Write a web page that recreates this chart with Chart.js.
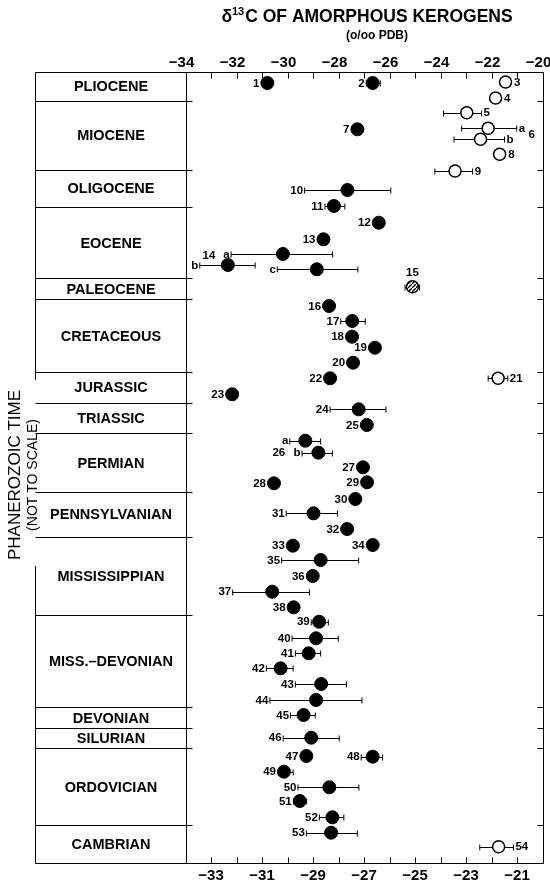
<!DOCTYPE html>
<html lang="en">
<head>
<meta charset="UTF-8">
<title>d13C of amorphous kerogens</title>
<script src="https://cdn.jsdelivr.net/npm/chart.js"></script>
<style>
    html, body { margin: 0; padding: 0; background: #fff; }
    canvas { display: block; }
</style>
</head>
<body>
<canvas id="kerogenChart" width="550" height="885"></canvas>
<script>
// label printed beside each point (sub-samples of 6, 14 and 26 shown as a/b/c)
const sampleLabels = ['1','2','3','4','5','a','b','7','8','9','10','11','12','13','a','b','c','15','16','17',
    '18','19','20','21','22','23','24','25','a','b','27','28','29','30','31','32','33','34','35','36',
    '37','38','39','40','41','42','43','44','45','46','47','48','49','50','51','52','53','54'];
// delta 13C, per mil PDB
const d13C = [-30.79,-26.66,-21.45,-21.84,-22.97,-22.13,-22.43,-27.26,-21.68,-23.43,-27.65,-28.18,-26.42,-28.59,-30.18,-32.34,-28.85,-25.10,-28.37,-27.46,
    -27.47,-26.57,-27.43,-21.74,-28.33,-32.17,-27.21,-26.89,-29.30,-28.79,-27.04,-30.53,-26.88,-27.34,-28.98,-27.66,-29.79,-26.66,-28.70,-29.01,
    -30.60,-29.76,-28.76,-28.88,-29.17,-30.27,-28.68,-28.88,-29.37,-29.07,-29.26,-26.66,-30.14,-28.36,-29.52,-28.24,-28.29,-21.72];
// range bars (null = single value)
const errLow = [null,-26.91,null,null,-23.88,-23.17,-23.47,null,-21.89,-24.22,-29.33,-28.53,null,null,-32.21,-33.44,-30.40,-25.39,null,-27.91,
    null,null,-27.62,-22.13,null,null,-28.33,null,-29.91,-29.43,null,null,null,null,-30.05,null,null,null,-30.23,null,
    -32.15,null,-29.07,-29.82,-29.69,-30.83,-29.69,-30.69,-29.88,-30.17,-29.45,-27.11,-30.36,-29.59,-29.76,-28.75,-29.26,-22.46];
const errHigh = [null,-26.36,null,null,-22.39,-21.01,-21.49,null,-21.50,-22.74,-25.95,-27.75,null,null,-28.23,-31.27,-27.24,-24.82,null,-26.95,
    null,null,-27.28,-21.36,null,null,-26.14,null,-28.70,-28.24,null,null,null,null,-28.04,null,null,null,-27.21,null,
    -29.14,null,-28.40,-28.01,-28.70,-29.78,-27.69,-27.08,-28.91,-27.97,-29.10,-26.27,-29.78,-27.20,-29.25,-27.79,-27.26,-21.14];
// position down the time column (not to scale), 0 = top
const stratPos = [11,11,10,26,40.7,56.3,67.3,57.3,82.3,99,118,134,150.7,167.3,182,193,197.3,214.7,234,249,
    264.7,275.7,290.7,306.3,306.3,322.3,337.3,353,368.7,380.7,395.3,411.3,410.3,427,441.3,457,473.7,473,488,504,
    519.7,535.3,549.7,566.3,581.3,596.3,612,628,643,665.7,684,684.7,699.7,715.3,729,745.3,760.7,774.7];
// F = filled, O = open, H = hatched
const kerogenType = ['F','F','O','O','O','O','O','F','O','O','F','F','F','F','F','F','F','H','F','F',
    'F','F','F','O','F','F','F','F','F','F','F','F','F','F','F','F','F','F','F','F',
    'F','F','F','F','F','F','F','F','F','F','F','F','F','F','F','F','F','O'];

const periods = ['PLIOCENE','MIOCENE','OLIGOCENE','EOCENE','PALEOCENE','CRETACEOUS','JURASSIC','TRIASSIC',
    'PERMIAN','PENNSYLVANIAN','MISSISSIPPIAN','MISS.\u2013DEVONIAN','DEVONIAN','SILURIAN','ORDOVICIAN','CAMBRIAN'];
const periodBounds = [0,28.7,98,134.7,206.3,227.3,299.7,330.7,361.3,419.7,464.7,543,634.7,656.3,676.3,753,791];

// sample numbers written once for a group of sub-samples
const groupLabels = ['6','14','26'];
const groupX = [-20.42,-33.08,-30.34];
const groupPos = [63,184,380.7];

// label placement: R = right of point/bar, T = above, everything else left
const rightLabelled = ['3','4','5','8','9','21','54'];
const FONT = '"Liberation Sans", Arial, sans-serif';
const R = 6.5;

function labelSide(i) {
    if (kerogenType[i] === 'H') return 'T';
    if (i === 5 || i === 6 || rightLabelled.includes(sampleLabels[i])) return 'R';
    return 'L';
}

function hatch() {
    const c = document.createElement('canvas');
    c.width = 4; c.height = 4;
    const g = c.getContext('2d');
    g.fillStyle = '#fff';
    g.fillRect(0, 0, 4, 4);
    g.strokeStyle = '#000';
    g.lineWidth = 1.3;
    g.beginPath();
    g.moveTo(-1, 5); g.lineTo(5, -1);
    g.stroke();
    return g.createPattern(c, 'repeat');
}

function points(type) {
    return d13C.map((v, i) => ({ x: v, y: stratPos[i], t: kerogenType[i] })).filter(p => p.t === type);
}

const minus = v => (v < 0 ? '\u2212' : '') + Math.abs(v);
const crisp = v => Math.round(v) + 0.5;

const decor = {
    id: 'decor',
    beforeDatasetsDraw(chart) {
        const { ctx, scales: { x, y } } = chart;
        ctx.save();
        ctx.strokeStyle = '#000';
        ctx.lineWidth = 1;
        d13C.forEach((v, i) => {
            if (errLow[i] === null) return;
            const py = crisp(y.getPixelForValue(stratPos[i]));
            const x0 = x.getPixelForValue(errLow[i]);
            const x1 = x.getPixelForValue(errHigh[i]);
            ctx.beginPath();
            ctx.moveTo(x0, py); ctx.lineTo(x1, py);
            ctx.moveTo(x0, py - 3); ctx.lineTo(x0, py + 3);
            ctx.moveTo(x1, py - 3); ctx.lineTo(x1, py + 3);
            ctx.stroke();
        });
        ctx.restore();
    },
    afterDatasetsDraw(chart) {
        const { ctx, scales: { x, y } } = chart;
        ctx.save();
        ctx.fillStyle = '#000';
        ctx.font = 'bold 11.5px ' + FONT;
        ctx.textBaseline = 'middle';
        d13C.forEach((v, i) => {
            const px = x.getPixelForValue(v);
            const py = y.getPixelForValue(stratPos[i]) + 0.5;
            const side = labelSide(i);
            if (side === 'T') {
                ctx.textAlign = 'center';
                ctx.fillText(sampleLabels[i], px, py - R - 8);
            } else if (side === 'R') {
                const edge = errHigh[i] === null ? px + R : Math.max(px + R, x.getPixelForValue(errHigh[i]));
                ctx.textAlign = 'left';
                ctx.fillText(sampleLabels[i], edge + 2, py);
            } else {
                const edge = errLow[i] === null ? px - R : Math.min(px - R, x.getPixelForValue(errLow[i]));
                ctx.textAlign = 'right';
                ctx.fillText(sampleLabels[i], edge - 1.5, py);
            }
        });
        ctx.textAlign = 'center';
        groupLabels.forEach((t, i) => {
            ctx.fillText(t, x.getPixelForValue(groupX[i]), y.getPixelForValue(groupPos[i]));
        });
        ctx.restore();
    },
    afterDraw(chart) {
        const { ctx, chartArea: a, scales: { x, y } } = chart;
        const L = crisp(a.left), Rt = crisp(a.right), T = crisp(a.top), B = crisp(a.bottom);
        const colLeft = 35.5;
        ctx.save();
        ctx.strokeStyle = '#000';
        ctx.lineWidth = 1;
        ctx.beginPath();
        // plot frame
        ctx.rect(L, T, Rt - L, B - T);
        // inner ticks on top and bottom
        x.ticks.forEach(t => {
            if (t.value <= -34 || t.value >= -20) return;
            const px = crisp(x.getPixelForValue(t.value));
            ctx.moveTo(px, T); ctx.lineTo(px, T + 6);
            ctx.moveTo(px, B); ctx.lineTo(px, B - 6);
        });
        // period column
        periodBounds.forEach((b, i) => {
            const py = crisp(y.getPixelForValue(b));
            ctx.moveTo(colLeft, py); ctx.lineTo(L, py);
            if (i > 0 && i < periodBounds.length - 1) {
                ctx.moveTo(L, py); ctx.lineTo(L + 6, py);
                ctx.moveTo(Rt, py); ctx.lineTo(Rt - 6, py);
            }
        });
        ctx.moveTo(colLeft, T); ctx.lineTo(colLeft, y.getPixelForValue(308));
        ctx.moveTo(colLeft, y.getPixelForValue(494)); ctx.lineTo(colLeft, B);
        ctx.stroke();

        ctx.fillStyle = '#000';
        ctx.textAlign = 'center';
        ctx.textBaseline = 'middle';
        ctx.font = 'bold 14.5px ' + FONT;
        periods.forEach((p, i) => {
            const mid = (periodBounds[i] + periodBounds[i + 1]) / 2;
            ctx.fillText(p, (colLeft + L) / 2, y.getPixelForValue(mid) + 1);
        });

        // rotated axis title
        ctx.save();
        ctx.translate(15, 475);
        ctx.rotate(-Math.PI / 2);
        ctx.font = '17px ' + FONT;
        ctx.fillText('PHANEROZOIC TIME', 0, 0);
        ctx.font = '14px ' + FONT;
        ctx.fillText('(NOT TO SCALE)', 0, 18);
        ctx.restore();

        // title with superscript
        ctx.textAlign = 'left';
        ctx.textBaseline = 'alphabetic';
        const big = 'bold 17.5px ' + FONT, small = 'bold 11px ' + FONT;
        ctx.font = big;
        const wD = ctx.measureText('\u03b4').width;
        const wRest = ctx.measureText('C OF AMORPHOUS KEROGENS').width;
        ctx.font = small;
        const wSup = ctx.measureText('13').width;
        let tx = 367 - (wD + wSup + 1 + wRest) / 2;
        ctx.font = big;
        ctx.fillText('\u03b4', tx, 22);
        tx += wD;
        ctx.font = small;
        ctx.fillText('13', tx, 15);
        tx += wSup + 1;
        ctx.font = big;
        ctx.fillText('C OF AMORPHOUS KEROGENS', tx, 22);
        ctx.textAlign = 'center';
        ctx.font = 'bold 12px ' + FONT;
        ctx.fillText('(o/oo PDB)', 377, 39);
        ctx.restore();
    }
};

const axisFont = { family: FONT, size: 15, weight: 'bold' };

new Chart(document.getElementById('kerogenChart'), {
    type: 'scatter',
    data: {
        datasets: [
            { data: points('F'), backgroundColor: '#000', borderColor: '#000', borderWidth: 1, pointRadius: R },
            { data: points('O'), backgroundColor: '#fff', borderColor: '#000', borderWidth: 1.5, pointRadius: R - 0.5 },
            { data: points('H'), backgroundColor: hatch(), borderColor: '#000', borderWidth: 1.5, pointRadius: R - 0.5 }
        ]
    },
    options: {
        responsive: false,
        animation: false,
        events: [],
        layout: { padding: { left: 185.5, right: 3.3, top: 0, bottom: 0 } },
        plugins: { legend: { display: false }, tooltip: { enabled: false } },
        scales: {
            x: {
                type: 'linear', position: 'bottom', min: -34, max: -20,
                grid: { display: false }, border: { display: false },
                ticks: {
                    stepSize: 1, autoSkip: false, maxRotation: 0, padding: -4,
                    color: '#000', font: axisFont,
                    callback: v => (Math.abs(v) % 2 === 1 ? minus(v) : '')
                },
                afterFit: s => { s.height = 22; s.paddingLeft = 0; s.paddingRight = 0; }
            },
            x2: {
                type: 'linear', position: 'top', min: -34, max: -20,
                grid: { display: false }, border: { display: false },
                ticks: {
                    stepSize: 1, autoSkip: false, maxRotation: 0, padding: -8, labelOffset: -4,
                    color: '#000', font: axisFont,
                    callback: v => (v % 2 === 0 ? minus(v) : '')
                },
                afterFit: s => { s.height = 72; s.paddingLeft = 0; s.paddingRight = 0; }
            },
            y: { type: 'linear', display: false, min: 0, max: 791, reverse: true }
        }
    },
    plugins: [decor]
});
</script>
</body>
</html>
